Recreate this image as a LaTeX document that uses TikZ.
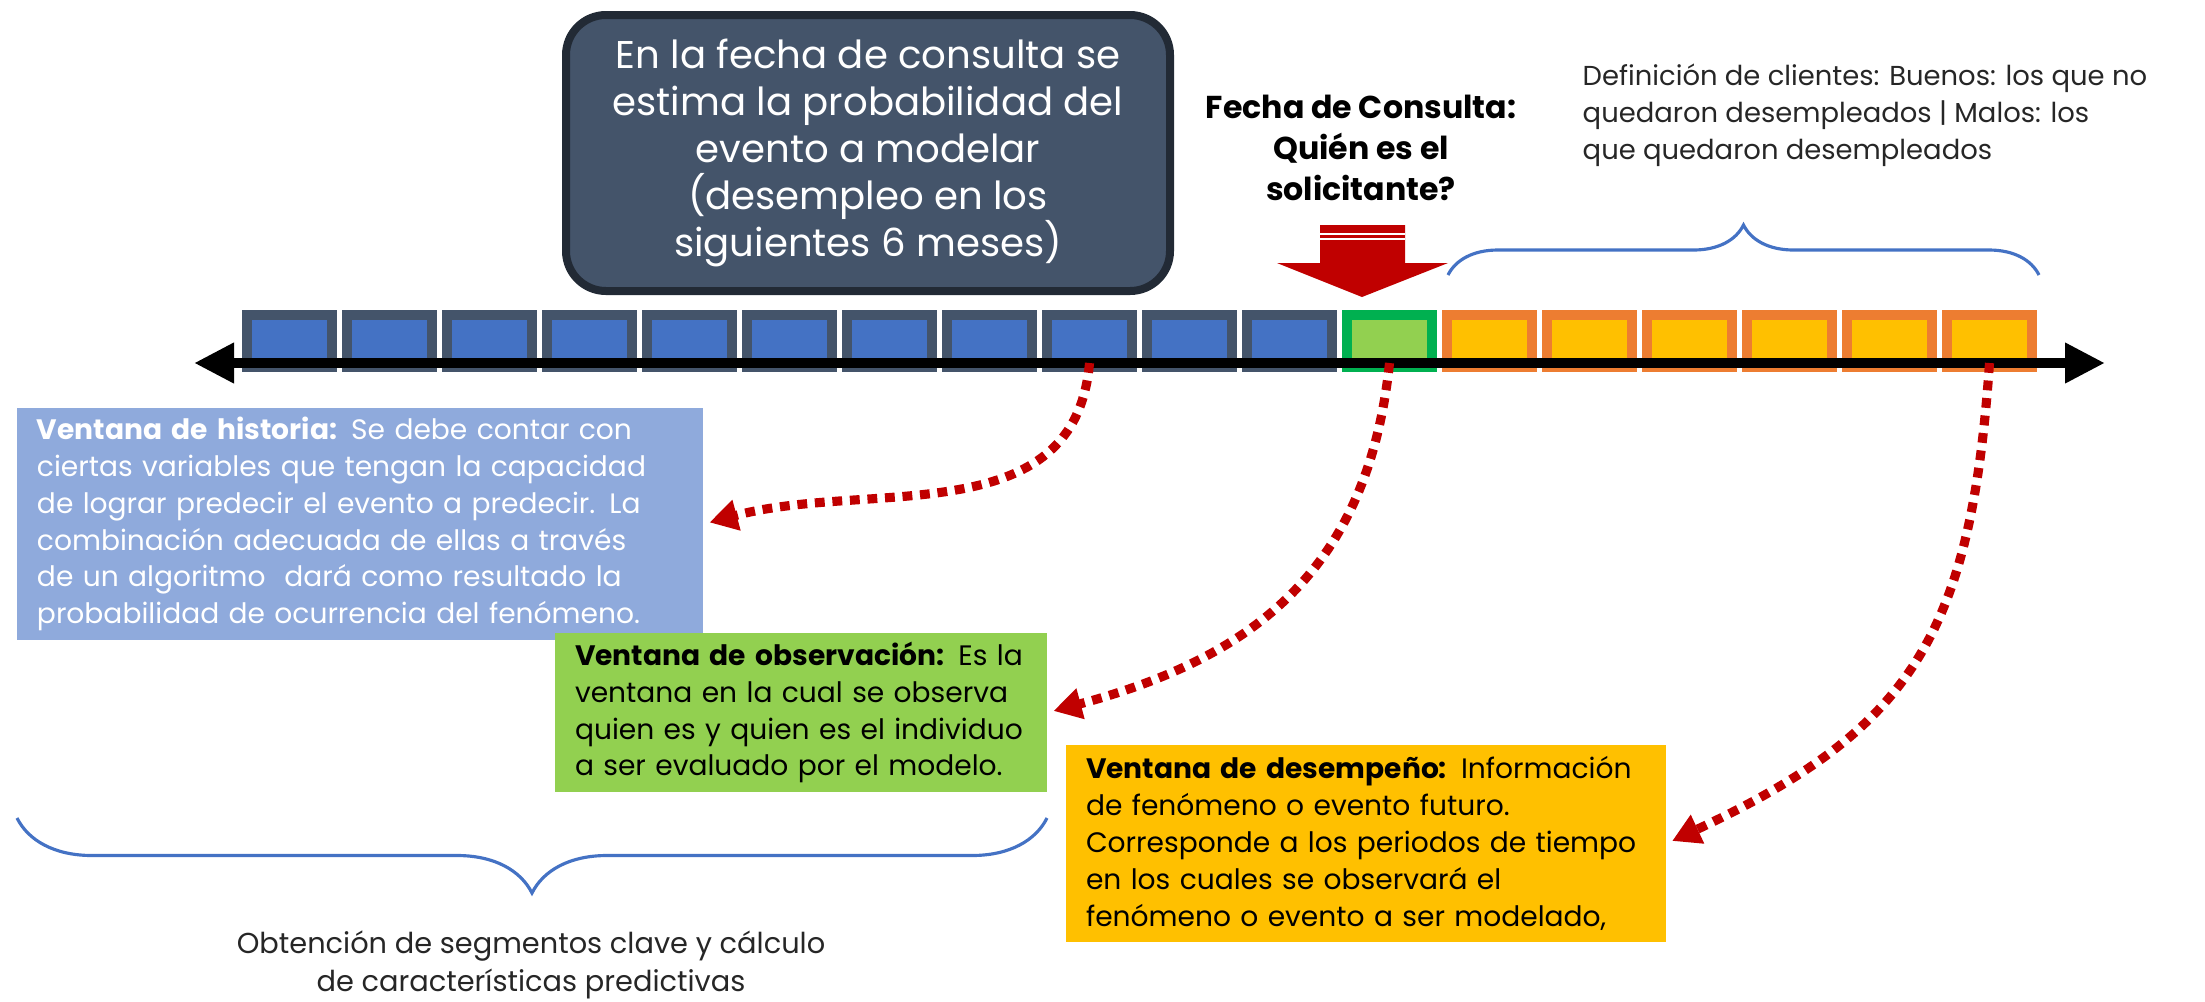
\documentclass[tikz,border=0pt]{standalone}
\usepackage{fontspec}
\setmainfont{Poppins}
\usetikzlibrary{arrows.meta,decorations.pathreplacing,positioning}
\definecolor{pizarra}{HTML}{44546A}
\definecolor{pizarraosc}{HTML}{222A35}
\definecolor{azul}{HTML}{4472C4}
\definecolor{azulclaro}{HTML}{8FAADC}
\definecolor{verde}{HTML}{00B050}
\definecolor{verdeclaro}{HTML}{92D050}
\definecolor{naranja}{HTML}{ED7D31}
\definecolor{amarillo}{HTML}{FFC000}
\definecolor{rojo}{HTML}{C00000}
\definecolor{texto}{HTML}{262626}
\begin{document}
\begin{tikzpicture}[>={Triangle[length=0.28cm,width=0.3cm]},
	mes/.style={draw=#1, line width=0.1cm, minimum width=0.85cm, minimum height=0.52cm, inner sep=0pt},
	ventana/.style={inner xsep=0.2cm, inner ysep=0pt, align=left, font=\fontsize{8}{10.5}\selectfont},
	flecha/.style={->, rojo, line width=2.6pt, dash pattern=on 2.8pt off 2.2pt, shorten >=0.06cm},
	llave/.style={azul, line width=0.9pt, decorate, decoration={brace, amplitude=#1}}]
		\useasboundingbox (0,0) rectangle (22.05,-10.01);
		\foreach \i in {1,...,11} \node[mes=pizarra, fill=azul] (m\i) at (\i+1.895,-3.41) {};
		\node[mes=verde, fill=verdeclaro] (m12) at (13.895,-3.41) {};
		\foreach \i in {13,...,18} \node[mes=naranja, fill=amarillo] (m\i) at (\i+1.895,-3.41) {};
		\coordinate (ejeizq) at (1.94,-3.63);
		\coordinate (ejeder) at (21.05,-3.63);
		\draw[{Triangle[length=0.4cm,width=0.38cm]}-{Triangle[length=0.4cm,width=0.38cm]}, line width=0.1cm] (ejeizq) -- (ejeder);
		\node[draw=pizarraosc, fill=pizarra, line width=0.08cm, rounded corners=0.4cm, minimum width=6.04cm, minimum height=2.76cm, text=white, align=center, font=\fontsize{11}{13.4}\selectfont] (titulo) at (8.68,-1.53) {En la fecha de consulta se\\ estima la probabilidad del\\ evento a modelar\\ (desempleo en los\\ siguientes 6 meses)};
		\node[align=center, font=\bfseries\fontsize{9}{11.6}\selectfont] (fecha) at (13.61,-1.48) {Fecha de Consulta:\\ Quién es el\\ solicitante?};
		\fill[rojo] (13.20,-2.25) -- (14.05,-2.25) -- (14.05,-2.63) -- (14.48,-2.63) -- (13.62,-2.97) -- (12.77,-2.63) -- (13.20,-2.63) -- cycle;
		\draw[white, line width=0.6pt] (13.20,-2.34) -- (14.05,-2.34) (13.20,-2.39) -- (14.05,-2.39);
		\node[anchor=west, align=left, inner sep=0pt, text=texto, font=\fontsize{7.8}{10.6}\selectfont] (clientes) at (15.82,-1.15) {Definición de clientes: Buenos: los que no\\ quedaron desempleados | Malos: los\\ que quedaron desempleados};
		\draw[llave=0.5cm] (14.48,-2.75) -- (20.39,-2.75);
		\node[ventana, fill=azulclaro, text=white, minimum height=2.32cm, text width=6.46cm] (historia) at (3.60,-5.24) {\textbf{Ventana de historia:} Se debe contar con\\ ciertas variables que tengan la capacidad\\ de lograr predecir el evento a predecir. La\\ combinación adecuada de ellas a través\\ de un algoritmo\ \ dará como resultado la\\ probabilidad de ocurrencia del fenómeno.};
		\node[ventana, fill=verdeclaro, text=black, minimum height=1.59cm, text width=4.52cm] (observacion) at (8.01,-7.125) {\textbf{Ventana de observación:} Es la\\ ventana en la cual se observa\\ quien es y quien es el individuo\\ a ser evaluado por el modelo.};
		\node[ventana, fill=amarillo, text=black, minimum height=1.97cm, text width=5.6cm] (desempeno) at (13.66,-8.435) {\textbf{Ventana de desempeño:} Información\\ de fenómeno o evento futuro.\\ Corresponde a los periodos de tiempo\\ en los cuales se observará el\\ fenómeno o evento a ser modelado,};
		\draw[llave=0.75cm] (10.47,-8.18) -- (0.17,-8.18);
		\node[align=center, text=texto, font=\fontsize{8.2}{10.8}\selectfont] (segmentos) at (5.31,-9.65) {Obtención de segmentos clave y cálculo\\ de características predictivas};
		\draw[flecha] (m9 |- ejeizq) to[out=-95, in=15, looseness=1.05] (historia.east);
		\draw[flecha] (m12 |- ejeizq) to[out=-96, in=15, looseness=1.1] (observacion.east);
		\draw[flecha] (m18 |- ejeizq) to[out=-94, in=25, looseness=1.2] (desempeno.east);
	\end{tikzpicture}
\end{document}
